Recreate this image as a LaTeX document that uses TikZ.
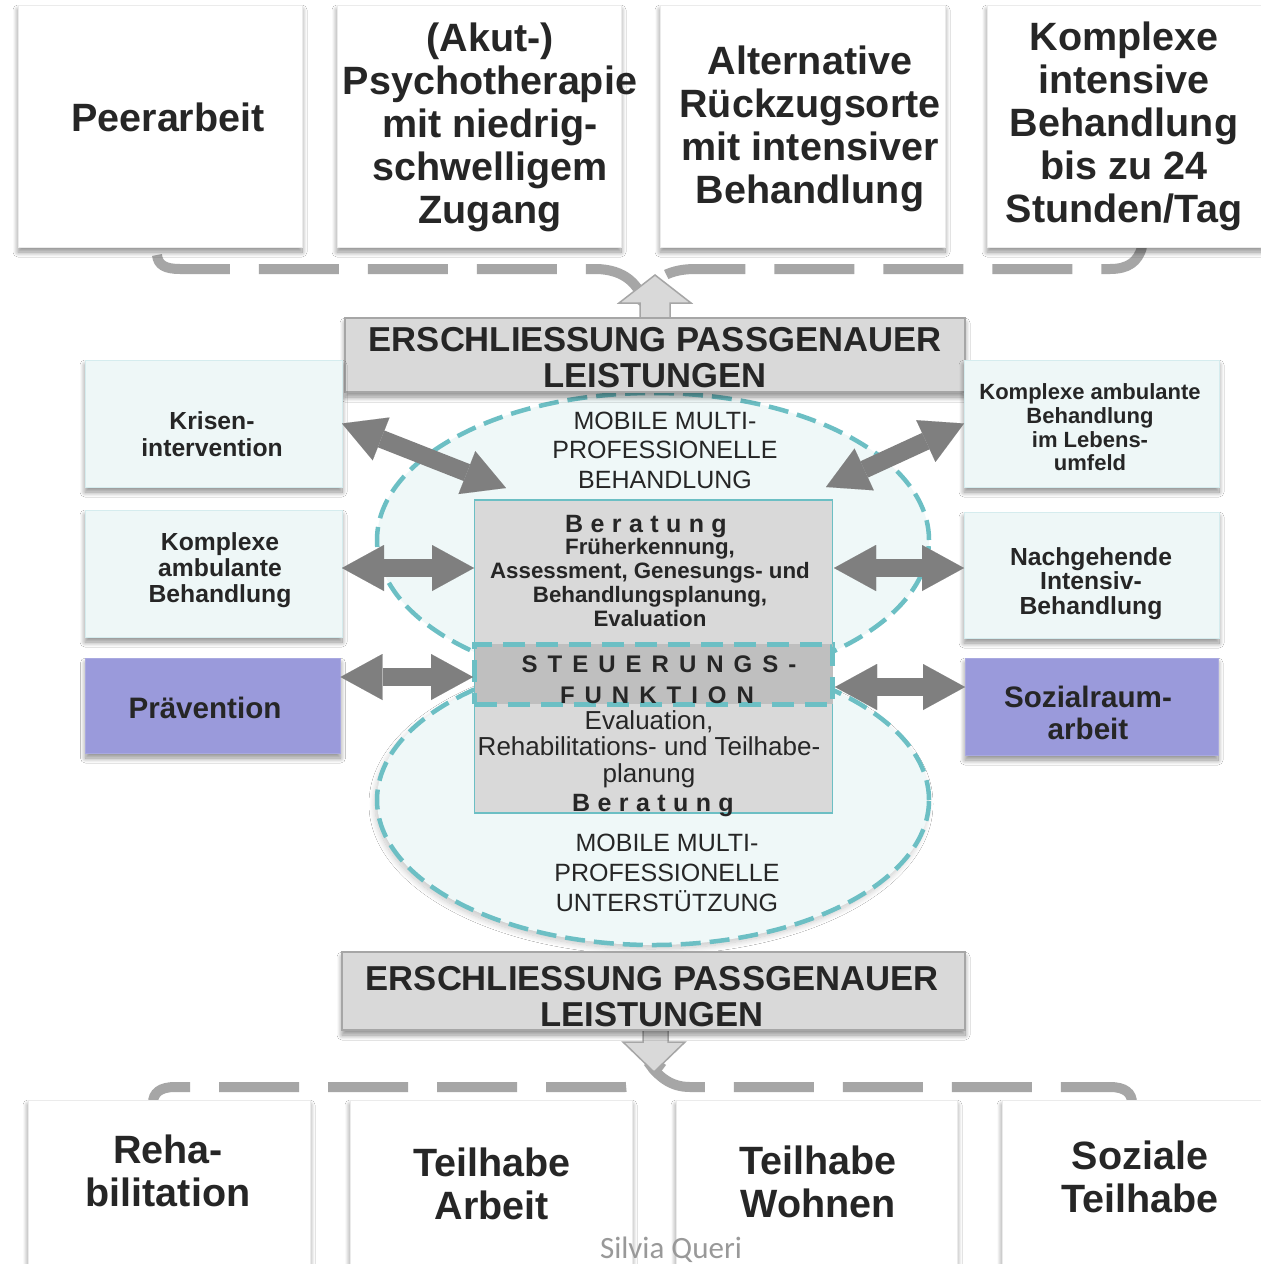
\documentclass[tikz,border=0pt]{standalone}
\usepackage{fontspec}
\setmainfont{Liberation Sans}
\newfontfamily\wmfont{Carlito}
\usetikzlibrary{arrows.meta,shapes.geometric,shadows.blur}
\definecolor{txtcol}{HTML}{262626}
\definecolor{boxgray}{HTML}{D9D9D9}
\definecolor{bandgray}{HTML}{BFBFBF}
\definecolor{edgegray}{HTML}{A6A6A6}
\definecolor{arrgray}{HTML}{7F7F7F}
\definecolor{myteal}{HTML}{6CBFC4}
\definecolor{icefill}{HTML}{EEF7F7}
\definecolor{iceedge}{HTML}{D5ECEE}
\definecolor{lav}{HTML}{9A9ADB}
\definecolor{elfill}{HTML}{EFF8F8}
\newcommand\lsp{\hspace{7.4pt}}
\newcommand\lspb{\hspace{10pt}}
\begin{document}
\begin{tikzpicture}[x=1pt,y=-1pt,
  box/.style={rectangle, inner sep=0pt, outer sep=0pt},
  shd/.style={blur shadow={shadow xshift=0pt, shadow yshift=-5pt, shadow blur radius=5pt, shadow blur steps=14, shadow opacity=45}},
  topbox/.style={box, shd, fill=white, draw=black!8, line width=0.8pt},
  sidebox/.style={box, shd, fill=icefill, draw=iceedge, line width=1pt},
  lavbox/.style={sidebox, fill=lav, draw=lav!85!white},
  grbox/.style={box, shd, fill=boxgray, draw=edgegray, line width=1.2pt},
  ell/.style={ellipse, inner sep=0pt, outer sep=0pt, fill=elfill, draw=myteal, line width=4.5pt, dash pattern=on 20pt off 9pt},
  dblarr/.style={draw=arrgray, line width=18pt, {Triangle[length=42pt,width=46pt,line width=0.01pt]}-{Triangle[length=42pt,width=46pt,line width=0.01pt]}},
  conn/.style={draw=edgegray, line width=10pt, dash pattern=on 80pt off 29pt},
  outarr/.style={fill=boxgray, draw=edgegray, line width=1.5pt, line join=miter},
  txt/.style={text=txtcol, align=center, inner sep=0pt, outer sep=0pt},
  bigtxt/.style={txt, font=\fontsize{39.5}{43}\selectfont\bfseries},
  headtxt/.style={txt, font=\fontsize{34.6}{36.5}\selectfont\bfseries},
  sidetxt/.style={txt, font=\fontsize{24.7}{26.5}\selectfont\bfseries},
  lavtxt/.style={txt, font=\fontsize{29.6}{32}\selectfont\bfseries},
  mobtxt/.style={txt, font=\fontsize{25}{29.5}\selectfont}
]
\fill[white] (0,0) rectangle (1261,1264);
\useasboundingbox (0,0) rectangle (1261,1264);

% dashed connectors
\draw[conn] (157,255) .. controls (158,265) and (165,269) .. (180,269) -- (595,269) .. controls (625,269) and (640,285) .. (645,306);
\draw[conn, dash phase=29pt] (1142,247) .. controls (1138,262) and (1128,269) .. (1110,269) -- (695,269) .. controls (665,269) and (650,282) .. (636,303);
\draw[conn, dash phase=34pt] (153,1103) .. controls (153,1093) and (160,1087) .. (175,1087) -- (625,1087) .. controls (640,1087) and (652,1076) .. (662,1062);
\draw[conn] (1132,1103) .. controls (1132,1093) and (1125,1087) .. (1110,1087) -- (690,1087) .. controls (670,1087) and (658,1076) .. (648,1062);

% top boxes
\node[topbox, minimum width=284pt, minimum height=242pt] (t1) at (160,126) {};
\node[topbox, minimum width=284pt, minimum height=242pt] (t2) at (479,126) {};
\node[topbox, minimum width=285pt, minimum height=242pt] (t3) at (802.5,126) {};
\node[topbox, minimum width=276pt, minimum height=242pt] (t4) at (1125,126) {};

% bottom boxes
\node[topbox, minimum width=282pt, minimum height=164pt] (b1) at (169,1182) {};
\node[topbox, minimum width=282pt, minimum height=164pt] (b2) at (491,1182) {};
\node[topbox, minimum width=281pt, minimum height=164pt] (b3) at (816.5,1182) {};
\node[topbox, minimum width=262pt, minimum height=164pt] (b4) at (1133,1182) {};

% ellipses
\node[ell, blur shadow={shadow xshift=-2pt, shadow yshift=-4pt, shadow blur radius=6pt, shadow blur steps=14, shadow opacity=22}, minimum width=552pt, minimum height=290pt] (lell) at (653,800) {};
\node[ell, minimum width=552pt, minimum height=294pt] (uell) at (653,540) {};

% inner box and steering band
\node[box, fill=boxgray, draw=myteal, line width=1.5pt, minimum width=358pt, minimum height=313pt] (ibox) at (653.5,656.5) {};
\node[box, fill=bandgray, draw=myteal, line width=5pt, dash pattern=on 22pt off 11pt, minimum width=358pt, minimum height=60pt] (band) at (653.5,674) {};

% headline boxes and block arrows
\draw[outarr] (640,320) -- (640,303) -- (619,303) -- (655,275) -- (691,303) -- (670,303) -- (670,320);
\node[grbox, minimum width=620pt, minimum height=74pt] (eb1) at (655,355) {};
\draw[outarr] (643,1028) -- (643,1042) -- (623,1042) -- (654,1072) -- (685,1042) -- (668,1042) -- (668,1028);
\node[grbox, minimum width=623pt, minimum height=78pt] (eb2) at (653.5,991) {};

% side boxes
\node[sidebox, minimum width=257pt, minimum height=127pt] (L1) at (213.5,423.5) {};
\node[sidebox, minimum width=257pt, minimum height=127pt] (L2) at (213.5,573.5) {};
\node[lavbox, minimum width=255pt, minimum height=95pt] (L3) at (213,705.5) {};
\node[sidebox, minimum width=255pt, minimum height=127pt] (R1) at (1091.5,423.5) {};
\node[sidebox, minimum width=255pt, minimum height=126pt] (R2) at (1091.5,575) {};
\node[lavbox, minimum width=253pt, minimum height=97pt] (R3) at (1091.5,706.5) {};

% arrow end points
\coordinate (a1e) at (506,488);
\coordinate (a2s) at (826,487);
\coordinate (a3e) at (474,568);
\coordinate (a4s) at (834,568);
\coordinate (a5e) at (473,677);
\coordinate (a6s) at (835,687);

\draw[dblarr] (L1.east) -- (a1e);
\draw[dblarr] (a2s) -- (R1.west);
\draw[dblarr] ([yshift=5.5pt]L2.east) -- (a3e);
\draw[dblarr] (a4s) -- ([yshift=7pt]R2.west);
\draw[dblarr] ([yshift=28.5pt]L3.east) -- (a5e);
\draw[dblarr] (a6s) -- ([yshift=19.5pt]R3.west);

% texts top
\node[bigtxt] (t1t) at (168,117.6) {Peerarbeit};
\node[bigtxt] (t2t) at (490,127.7) {(Akut-)\\Psychotherapie\\mit niedrig-\\schwelligem\\Zugang};
\node[bigtxt] (t3t) at (810,129.3) {Alternative\\Rückzugsorte\\mit intensiver\\Behandlung};
\node[bigtxt] (t4t) at (1124,126.8) {Komplexe\\intensive\\Behandlung\\bis zu 24\\Stunden/Tag};

% texts bottom
\node[bigtxt] (b1t) at (168,1170.6) {Reha-\\bilitation};
\node[bigtxt] (b2t) at (492,1184) {Teilhabe\\Arbeit};
\node[bigtxt] (b3t) at (818,1181.6) {Teilhabe\\Wohnen};
\node[bigtxt] (b4t) at (1140,1177) {Soziale\\Teilhabe};

% headline texts
\node[headtxt] (eb1t) at (655,357.6) {ERSCHLIESSUNG PASSGENAUER\\LEISTUNGEN};
\node[headtxt] (eb2t) at (652,996.6) {ERSCHLIESSUNG PASSGENAUER\\LEISTUNGEN};

% side texts
\node[sidetxt, font=\fontsize{24.7}{27}\selectfont\bfseries] (L1t) at (212,434.5) {Krisen-\\intervention};
\node[sidetxt, font=\fontsize{24.7}{26}\selectfont\bfseries] (L2t) at (220,570.6) {Komplexe\\ambulante\\Behandlung};
\node[lavtxt, anchor=base] (L3t) at (205,718) {Prävention};
\node[txt, font=\fontsize{22}{23.7}\selectfont\bfseries] (R1t) at (1090,427.5) {Komplexe ambulante\\Behandlung\\im Lebens-\\umfeld};
\node[sidetxt, font=\fontsize{24.7}{24.5}\selectfont\bfseries] (R2t) at (1091,583.6) {Nachgehende\\Intensiv-\\Behandlung};
\node[lavtxt] (R3t) at (1088,713) {Sozialraum-\\arbeit};

% ellipse texts
\node[mobtxt] (mob1) at (665,450) {MOBILE MULTI-\\PROFESSIONELLE\\BEHANDLUNG};
\node[mobtxt, font=\fontsize{25}{30}\selectfont] (mob2) at (667,873) {MOBILE MULTI-\\PROFESSIONELLE\\UNTERSTÜTZUNG};

% inner box texts
\node[txt, anchor=base, font=\fontsize{25}{25}\selectfont\bfseries] (ber1) at (646,532) {B\lsp e\lsp r\lsp a\lsp t\lsp u\lsp n\lsp g};
\node[txt, font=\fontsize{22.3}{24}\selectfont\bfseries] (upl) at (650,583) {Früherkennung,\\Assessment, Genesungs- und\\Behandlungsplanung,\\Evaluation};
\node[txt, anchor=base, font=\fontsize{24}{24}\selectfont\bfseries] (steu1) at (659,672) {S\lspb T\lspb E\lspb U\lspb E\lspb R\lspb U\lspb N\lspb G\lspb S\lspb -};
\node[txt, anchor=base, font=\fontsize{24}{24}\selectfont\bfseries] (steu2) at (657,703) {F\lspb U\lspb N\lspb K\lspb T\lspb I\lspb O\lspb N};
\node[txt, font=\fontsize{26}{26.5}\selectfont] (lowl) at (649,749) {Evaluation,\\Rehabilitations- und Teilhabe-\\planung};
\node[txt, anchor=base, font=\fontsize{25}{25}\selectfont\bfseries] (ber2) at (653,811) {B\lsp e\lsp r\lsp a\lsp t\lsp u\lsp n\lsp g};

% watermark
\node[anchor=base, inner sep=0pt, text=black!40, font=\wmfont\fontsize{31}{31}\selectfont] (wm) at (671,1258) {Silvia Queri};
\end{tikzpicture}
\end{document}
